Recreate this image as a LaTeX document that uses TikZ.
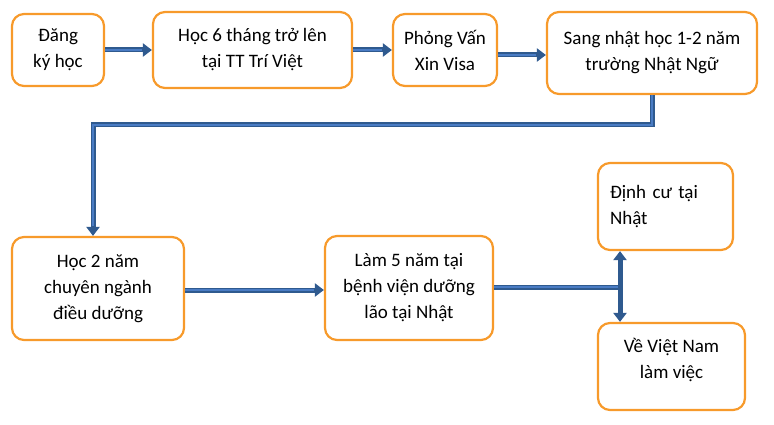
\documentclass[tikz,border=0pt]{standalone}
\usepackage{fontspec}
\setmainfont{Carlito}
\usetikzlibrary{arrows.meta}
\definecolor{orng}{HTML}{F79A2B}
\definecolor{dk}{HTML}{2F5A8F}
\definecolor{lt}{HTML}{4A7CC4}
\begin{document}
\begin{tikzpicture}[x=1pt,y=-1pt,
  bx/.style={draw=orng,line width=2.2pt,rounded corners=12pt,align=center,font=\fontsize{19}{26}\selectfont,inner sep=0pt},
  arr/.style={draw=dk,line width=5pt,-{Triangle[width=13pt,length=9pt]}},
  inr/.style={draw=lt,line width=2pt,shorten >=10pt}]
\useasboundingbox (0,0) rectangle (774,425);
\node[bx,minimum width=92pt,minimum height=72pt] (a) at (58,50) {Đăng\\ký học};
\node[bx,minimum width=199pt,minimum height=76pt] (b) at (252.5,50) {Học 6 tháng trở lên\\tại TT Trí Việt};
\node[bx,minimum width=104pt,minimum height=72pt] (c) at (445,50) {Phỏng Vấn\\Xin Visa};
\node[bx,minimum width=210pt,minimum height=82pt] (d) at (652,53) {Sang nhật học 1-2 năm\\trường Nhật Ngữ};
\node[bx,minimum width=172pt,minimum height=103pt] (e) at (98,288.5) {Học 2 năm\\chuyên ngành\\điều dưỡng};
\node[bx,minimum width=168pt,minimum height=104pt] (f) at (409,288) {Làm 5 năm tại\\bệnh viện dưỡng\\lão tại Nhật};
\node[bx,align=left,text width=111pt,inner xsep=12pt,minimum height=87pt] (g) at (665.5,206.5) {Định cư tại\\Nhật\\[-8pt]};
\node[bx,minimum width=147pt,minimum height=87pt] (h) at (671.5,366.5) {Về Việt Nam\\làm việc\\[-10pt]};
\coordinate (t1) at (652,125);
\coordinate (t2) at (93,125);
\coordinate (j) at (620,287);
\draw[arr] (a.east) -- (b.west);
\draw[inr] (a.east) -- (b.west);
\draw[arr] (b.east) -- (c.west);
\draw[inr] (b.east) -- (c.west);
\draw[arr] (c.east|-{0,55}) -- (d.west|-{0,55});
\draw[inr] (c.east|-{0,55}) -- (d.west|-{0,55});
\draw[arr] (d.south) -- (t1) -- (t2) -- (t2|-e.north);
\draw[inr] (d.south) -- (t1) -- (t2) -- (t2|-e.north);
\draw[arr] (e.east|-{0,290}) -- (f.west|-{0,290});
\draw[inr] (e.east|-{0,290}) -- (f.west|-{0,290});
\draw[draw=dk,line width=5pt] (f.east|-j) -- (j);
\draw[draw=lt,line width=2pt] (f.east|-j) -- (j);
\draw[draw=dk,line width=5pt,{Triangle[width=13pt,length=9pt]}-{Triangle[width=13pt,length=9pt]}] (j|-g.south) -- (j|-h.north);
\end{tikzpicture}
\end{document}
